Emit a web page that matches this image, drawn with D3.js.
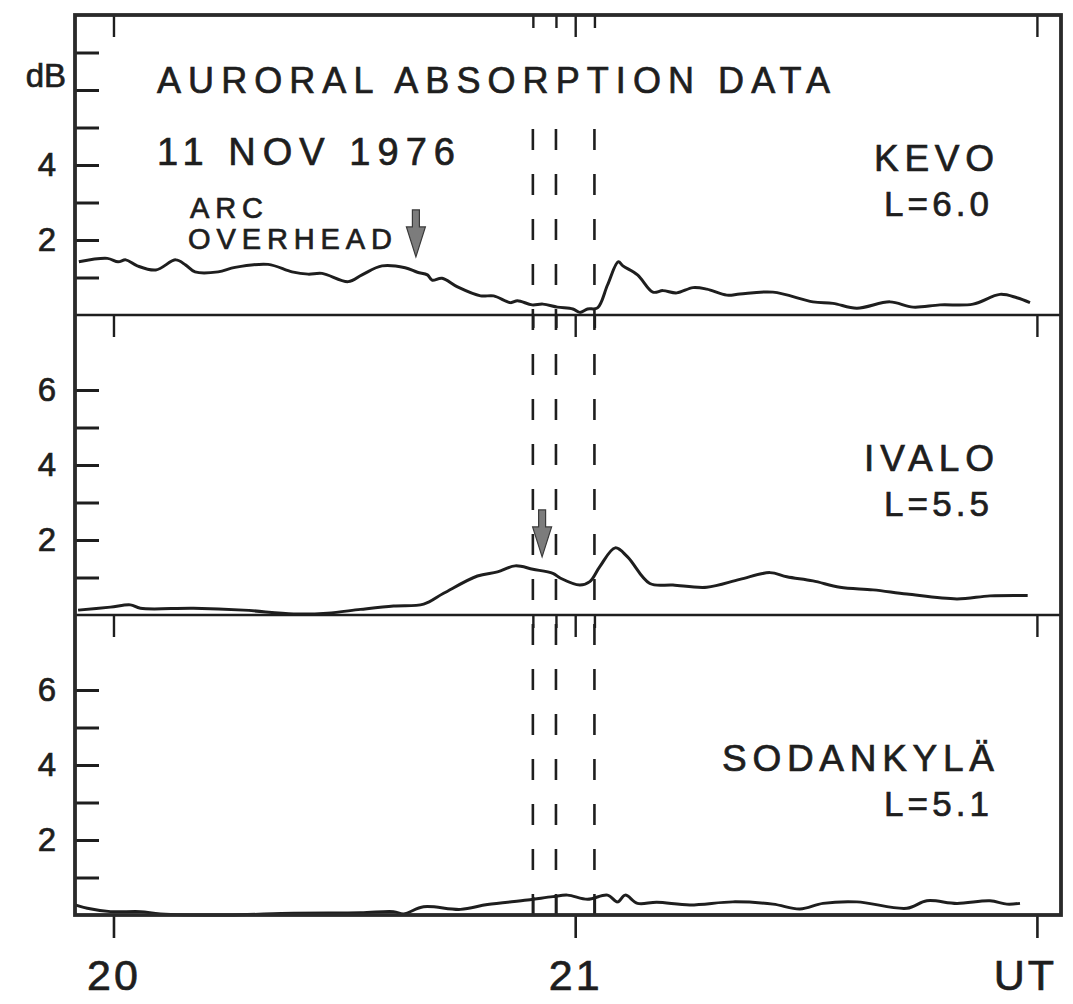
<!DOCTYPE html>
<html>
<head>
<meta charset="utf-8">
<script src="https://cdn.jsdelivr.net/npm/d3@7"></script>
<style>
body { margin: 0; background: #fff; }
text { font-family: "Liberation Sans", Arial, sans-serif; fill: #1e1e1e; stroke: #1e1e1e; stroke-width: 0.7px; }
</style>
</head>
<body>
<svg id="chart"></svg>
<script>
// minutes after 20:00 UT, absorption in dB
var kevoTime = [-4.5, -0.8, 0.6, 1.6, 3.1, 5.5, 8.1, 9.4, 10.6, 13.6, 15.8, 20.1, 23.2, 25.3, 27.1, 30.5, 32.3, 34.9, 37.9, 39.5, 40.8, 41.4, 42.7, 44.7, 47.7, 49.4, 51.6, 52.5, 54.4, 55.8, 57.7, 59.7, 60.6, 61.6, 62.9, 64.2, 65.6, 66.2, 68.1, 70.1, 71.4, 73.2, 75.3, 77.1, 79.7, 81.4, 85.7, 90.9, 93.5, 96.6, 100.9, 103.9, 107.4, 111.7, 115.2, 117.4, 119.1];
var kevoDb = [1.42, 1.51, 1.42, 1.47, 1.31, 1.20, 1.47, 1.33, 1.15, 1.15, 1.27, 1.35, 1.15, 1.09, 1.11, 0.89, 1.07, 1.31, 1.26, 1.14, 1.07, 0.93, 0.98, 0.75, 0.51, 0.51, 0.33, 0.38, 0.27, 0.29, 0.21, 0.16, 0.07, 0.16, 0.19, 0.80, 1.42, 1.31, 1.07, 0.61, 0.65, 0.59, 0.73, 0.69, 0.53, 0.56, 0.61, 0.35, 0.31, 0.18, 0.35, 0.21, 0.27, 0.29, 0.55, 0.46, 0.33];

var ivaloTime = [-4.6, -0.4, 2.2, 3.5, 10.4, 16.9, 23.4, 27.8, 32.1, 36.4, 40.3, 42.9, 47.3, 49.9, 52.2, 54.5, 57.1, 58.1, 60.6, 61.9, 63.2, 65.2, 66.8, 69.7, 72.7, 77.1, 81.4, 85.3, 87.5, 90.9, 94.4, 98.7, 103.1, 109.6, 113.9, 118.8];
var ivaloDb = [0.13, 0.21, 0.27, 0.18, 0.18, 0.13, 0.03, 0.05, 0.15, 0.24, 0.29, 0.58, 1.04, 1.15, 1.31, 1.22, 1.11, 0.98, 0.80, 0.89, 1.29, 1.79, 1.55, 0.84, 0.80, 0.74, 0.95, 1.13, 1.02, 0.91, 0.74, 0.67, 0.56, 0.43, 0.51, 0.52];

var sodTime = [-5.0, -3.4, -0.4, 3.5, 6.1, 14.8, 23.4, 32.1, 36.4, 37.7, 40.3, 45.1, 48.6, 53.8, 57.1, 59.0, 61.6, 64.2, 65.5, 66.5, 68.1, 70.6, 74.9, 80.5, 85.7, 89.2, 92.2, 96.6, 103.1, 105.7, 109.6, 113.9, 116.1, 117.8];
var sodDb = [0.27, 0.18, 0.09, 0.09, 0.03, 0.0, 0.05, 0.06, 0.09, 0.03, 0.22, 0.15, 0.28, 0.40, 0.49, 0.53, 0.42, 0.53, 0.35, 0.53, 0.31, 0.34, 0.27, 0.35, 0.29, 0.16, 0.31, 0.35, 0.18, 0.38, 0.31, 0.38, 0.29, 0.31];

var stationNames = ["KEVO", "IVALO", "SODANKYLÄ"];
var stationL = ["L=6.0", "L=5.5", "L=5.1"];

var hourTicks = [0, 60, 120];
var hourLabels = ["20", "21", "UT"];
var dashTimes = [54.5, 57.5, 62.5];

var yTickValues = [[1, 2, 3, 4, 5, 6, 7], [1, 2, 3, 4, 5, 6], [1, 2, 3, 4, 5, 6]];
var yTickLabels = [["", "2", "", "4", "", "dB", ""], ["", "2", "", "4", "", "6"], ["", "2", "", "4", "", "6"]];

// arrows: "arc overhead" on Kevo, second one on Ivalo
var arrowTime = [39.3, 55.7];
var arrowPanel = [0, 1];
var arrowDb = [1.55, 1.55];

var ink = "#1e1e1e";
var svg = d3.select("#chart").attr("width", 1073).attr("height", 1004);

var left = 75, right = 1061,
	panelTop = [15, 315, 615],
	panelHeight = 300,
	bottom = 915;

var x = d3.scaleLinear().domain([-5, 123]).range([75, 1060]);

var series = [
	d3.zip(kevoTime, kevoDb),
	d3.zip(ivaloTime, ivaloDb),
	d3.zip(sodTime, sodDb)
];
var yScales = [];

panelTop.forEach(function (top, i) {
	var y = d3.scaleLinear().domain([0, 8]).range([top + panelHeight, top]);
	yScales.push(y);

	// db ticks, pointing into the panel
	var yAxis = d3.axisLeft(y)
		.tickValues(yTickValues[i])
		.tickSizeInner(-24)
		.tickSizeOuter(0)
		.tickPadding(19)
		.tickFormat(function (d, k) { return yTickLabels[i][k]; });
	var ya = svg.append("g")
		.attr("transform", "translate(" + left + ",0)")
		.call(yAxis);
	ya.select(".domain").remove();
	ya.selectAll("line").attr("stroke", ink).attr("stroke-width", 3);
	ya.selectAll("text")
		.attr("font-size", 33)
		.attr("fill", ink)
		.style("font-family", "'Liberation Sans', Arial, sans-serif");
	ya.selectAll("text").filter(function (d, k) { return yTickLabels[i][k] == "dB"; })
		.attr("x", -9)
		.attr("dy", "0")
		.attr("y", -4);

	// hour ticks along the top of each panel
	var ht = svg.append("g")
		.attr("transform", "translate(0," + top + ")")
		.call(d3.axisBottom(x).tickValues(hourTicks).tickSize(22).tickFormat(""));
	ht.select(".domain").remove();
	ht.selectAll("line").attr("stroke", ink).attr("stroke-width", 2.4);

	var dt = svg.append("g")
		.attr("transform", "translate(0," + top + ")")
		.call(d3.axisBottom(x).tickValues(dashTimes).tickSize(13).tickFormat(""));
	dt.select(".domain").remove();
	dt.selectAll("line").attr("stroke", ink).attr("stroke-width", 2.4);

	// absorption trace
	var line = d3.line()
		.x(function (d) { return x(d[0]); })
		.y(function (d) { return y(d[1]); })
		.curve(d3.curveCatmullRom.alpha(0.5));
	svg.append("path")
		.datum(series[i])
		.attr("d", line)
		.attr("fill", "none")
		.attr("stroke", ink)
		.attr("stroke-width", 3)
		.attr("stroke-linejoin", "round");

	// station name and L value
	svg.append("text")
		.attr("x", 994)
		.attr("y", top + 156)
		.attr("text-anchor", "end")
		.attr("font-size", 37)
		.attr("textLength", [120, 130, 272][i])
		.attr("lengthAdjust", "spacing")
		.text(stationNames[i]);
	svg.append("text")
		.attr("x", 989)
		.attr("y", top + 201)
		.attr("text-anchor", "end")
		.attr("font-size", 35)
		.attr("textLength", 105)
		.attr("lengthAdjust", "spacing")
		.text(stationL[i]);
});

// dashed event markers through all panels
svg.selectAll(".marker")
	.data(dashTimes)
	.enter().append("line")
	.attr("class", "marker")
	.attr("x1", function (d) { return x(d); })
	.attr("x2", function (d) { return x(d); })
	.attr("y1", 129)
	.attr("y2", bottom)
	.attr("stroke", ink)
	.attr("stroke-width", 2.6)
	.attr("stroke-dasharray", "21,24");

// small ticks rising from the bottom axis at the markers
var bt = svg.append("g")
	.attr("transform", "translate(0," + bottom + ")")
	.call(d3.axisTop(x).tickValues(dashTimes).tickSize(18).tickFormat(""));
bt.select(".domain").remove();
bt.selectAll("line").attr("stroke", ink).attr("stroke-width", 2.4);

// time axis
var xa = svg.append("g")
	.attr("transform", "translate(0," + bottom + ")")
	.call(d3.axisBottom(x)
		.tickValues(hourTicks)
		.tickSize(23)
		.tickPadding(21)
		.tickFormat(function (d, k) { return hourLabels[k]; }));
xa.select(".domain").remove();
xa.selectAll("line").attr("stroke", ink).attr("stroke-width", 2.6);
xa.selectAll("text")
	.attr("font-size", 43)
	.attr("fill", ink)
	.attr("letter-spacing", 3)
	.style("font-family", "'Liberation Sans', Arial, sans-serif");
xa.selectAll("text").filter(function (d, k) { return hourLabels[k] == "UT"; })
	.attr("dx", -12);

// panel separators and frame
svg.selectAll(".sep")
	.data(panelTop.slice(1))
	.enter().append("line")
	.attr("class", "sep")
	.attr("x1", left).attr("x2", right)
	.attr("y1", function (d) { return d; })
	.attr("y2", function (d) { return d; })
	.attr("stroke", ink)
	.attr("stroke-width", 2.4);

svg.append("rect")
	.attr("x", left)
	.attr("y", panelTop[0])
	.attr("width", right - left)
	.attr("height", bottom - panelTop[0])
	.attr("fill", "none")
	.attr("stroke", "#2a2a2a")
	.attr("stroke-width", 3.8);

// arrows
svg.selectAll(".arrow")
	.data(arrowTime)
	.enter().append("path")
	.attr("class", "arrow")
	.attr("d", function (d, k) {
		var tx = x(d), ty = yScales[arrowPanel[k]](arrowDb[k]);
		return "M" + (tx - 3.5) + "," + (ty - 47) + "h7v17h6l-9.5,30l-9.5,-30h6z";
	})
	.attr("fill", "#7c7c7c")
	.attr("stroke", "#3a3a3a")
	.attr("stroke-width", 1.2);

// titles
svg.append("text")
	.attr("x", 157).attr("y", 93)
	.attr("font-size", 36)
	.attr("textLength", 673)
	.attr("lengthAdjust", "spacing")
	.text("AURORAL ABSORPTION DATA");
svg.append("text")
	.attr("x", 157).attr("y", 165)
	.attr("font-size", 38)
	.attr("textLength", 298)
	.attr("lengthAdjust", "spacing")
	.text("11 NOV 1976");
svg.append("text")
	.attr("x", 190).attr("y", 218)
	.attr("font-size", 29)
	.attr("textLength", 73)
	.attr("lengthAdjust", "spacing")
	.text("ARC");
svg.append("text")
	.attr("x", 188).attr("y", 249)
	.attr("font-size", 29)
	.attr("textLength", 204)
	.attr("lengthAdjust", "spacing")
	.text("OVERHEAD");
</script>
</body>
</html>
